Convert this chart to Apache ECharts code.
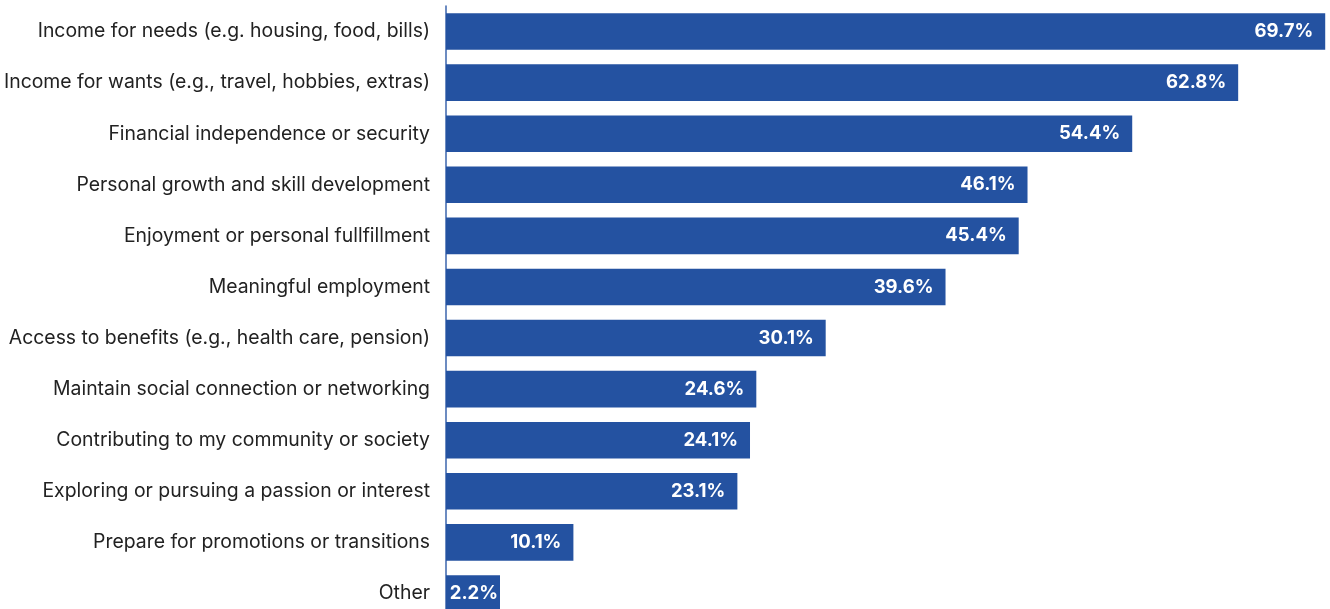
<!DOCTYPE html>
<html>
<head>
<meta charset="utf-8">
<script src="https://cdn.jsdelivr.net/npm/echarts@6/dist/echarts.min.js"></script>
<style>
  html, body { margin: 0; padding: 0; background: #ffffff; }
  #chart { width: 1330px; height: 609px; }
</style>
</head>
<body>
<div id="chart"></div>
<script>
// Reasons for working, share of respondents (%)
const categories = [
  'Income for needs (e.g. housing, food, bills)',
  'Income for wants (e.g., travel, hobbies, extras)',
  'Financial independence or security',
  'Personal growth and skill development',
  'Enjoyment or personal fullfillment',
  'Meaningful employment',
  'Access to benefits (e.g., health care, pension)',
  'Maintain social connection or networking',
  'Contributing to my community or society',
  'Exploring or pursuing a passion or interest',
  'Prepare for promotions or transitions',
  'Other'
];
const shares = [69.7, 62.8, 54.4, 46.1, 45.4, 39.6, 30.1, 24.6, 24.1, 23.1, 10.1, 2.2];

// Short bars keep their label tight against the bar end
const barData = shares.map(v => v < 5 ? { value: v, label: { distance: 2 } } : v);

const chart = echarts.init(document.getElementById('chart'), null, { renderer: 'canvas' });
chart.setOption({
  animation: false,
  backgroundColor: '#ffffff',
  grid: { left: 446, top: 6, height: 613, right: 1, containLabel: false, outerBoundsMode: 'none' },
  xAxis: {
    type: 'value',
    min: 0,
    max: 70,
    show: false
  },
  yAxis: {
    type: 'category',
    data: categories,
    inverse: true,
    axisLine: { show: true, lineStyle: { color: '#3b64ad', width: 1.5 } },
    axisTick: { show: false },
    axisLabel: {
      margin: 16,
      color: '#222222',
      fontFamily: 'Inter',
      fontSize: 19.4,
      padding: [4, 0, 0, 0]
    }
  },
  series: [{
    type: 'bar',
    data: barData,
    barCategoryGap: '28.5%',
    barMinHeight: 54,
    itemStyle: { color: '#2452a1' },
    label: {
      show: true,
      position: 'insideRight',
      distance: 12,
      color: '#ffffff',
      fontFamily: 'Inter',
      fontWeight: 'bold',
      fontSize: 18.5,
      formatter: p => p.value.toFixed(1) + '%'
    }
  }]
});
</script>
</body>
</html>
